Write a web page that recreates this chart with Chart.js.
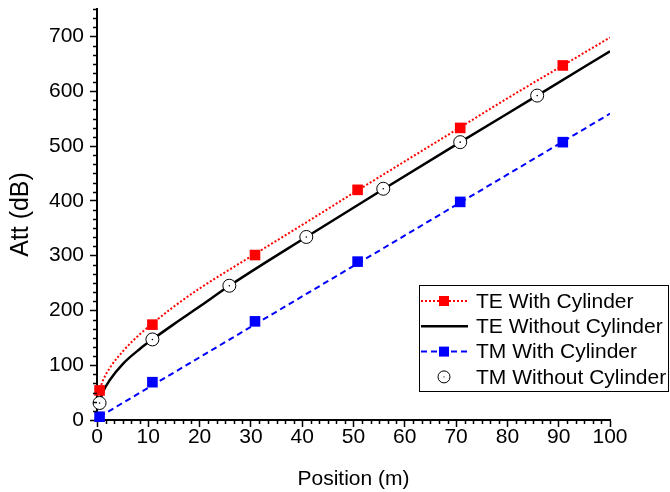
<!DOCTYPE html>
<html>
<head>
<meta charset="utf-8">
<script src="https://cdn.jsdelivr.net/npm/chart.js@4"></script>
<style>
    body { margin: 0; background: #fff; }
    #wrap { width: 670px; height: 492px; }
</style>
</head>
<body>
<div id="wrap"><canvas id="attChart" width="670" height="492"></canvas></div>
<script>
// du lieu doc tu hinh
const markerX = [0.5, 10.8, 30.8, 50.8, 70.8, 90.8];
const teWithY = [54, 174, 301, 420, 533, 647];
const tmWithY = [6, 69, 180, 289, 398, 507];

const tmWithoutX = [0.5, 10.8, 25.8, 40.8, 55.8, 70.8, 85.8];
const tmWithoutY = [31, 147, 245, 334, 422, 507, 592];

// duong cong TE With Cylinder (cham do)
const teWithCurveX = [0.3, 1.2, 2.5, 5.1, 8.4, 10.8, 15, 20, 30.8, 40, 50.8, 60, 70.8, 80, 90.8, 100];
const teWithCurveY = [50, 73, 95, 126, 157, 176, 207, 240, 303, 356, 419, 472, 534, 587, 647, 698];

// duong cong TE Without Cylinder (den)
const teWithoutCurveX = [0.3, 1.2, 2.5, 5.1, 8.4, 10.8, 15, 20, 25.8, 40.8, 55.8, 70.8, 85.8, 100];
const teWithoutCurveY = [29, 52, 73, 103, 130, 147, 175, 207, 245, 334, 421, 507, 592, 673];

// duong thang TM With Cylinder (xanh)
const tmLineX = [0.5, 100];
const tmLineY = [6, 559];

const toPts = (xs, ys) => xs.map((x, i) => ({ x: x, y: ys[i] }));

const FONT = "'Liberation Sans', Arial, sans-serif";

// ve vach chia phu (5 vach giua hai vach chinh)
const minorTicks = {
    id: 'minorTicks',
    afterDraw(chart) {
        const ctx = chart.ctx;
        const xs = chart.scales.x, ys = chart.scales.y;
        ctx.save();
        ctx.strokeStyle = '#000';
        ctx.lineWidth = 1.5;
        ctx.beginPath();
        for (let i = 0; i <= 60; i++) {
            if (i % 6 === 0) continue;
            const px = Math.round(xs.getPixelForValue(i * 10 / 6)) + 0.5;
            ctx.moveTo(px, xs.top);
            ctx.lineTo(px, xs.top + 4);
        }
        for (let i = 0; i <= 45; i++) {
            if (i % 6 === 0) continue;
            const py = Math.round(ys.getPixelForValue(i * 100 / 6)) + 0.5;
            ctx.moveTo(ys.right, py);
            ctx.lineTo(ys.right - 4, py);
        }
        ctx.stroke();
        ctx.restore();
    }
};

// chu thich
const boxLegend = {
    id: 'boxLegend',
    afterDraw(chart) {
        const ctx = chart.ctx;
        const left = 419, top = 285, right = 669, bottom = 392;
        ctx.save();
        ctx.fillStyle = '#fff';
        ctx.fillRect(left, top, right - left, bottom - top);
        ctx.strokeStyle = '#000';
        ctx.lineWidth = 1;
        ctx.strokeRect(left + 0.5, top + 0.5, right - left - 1, bottom - top - 1);

        const rows = [
            { text: 'TE With Cylinder', color: 'red', dash: [2, 2], width: 2, marker: 'square' },
            { text: 'TE Without Cylinder', color: '#000', dash: [], width: 2.5, marker: null },
            { text: 'TM With Cylinder', color: '#0000ff', dash: [6, 4], width: 2, marker: 'square' },
            { text: 'TM Without Cylinder', color: null, dash: [], width: 0, marker: 'circle' }
        ];
        rows.forEach((r, i) => {
            const y = 301 + i * 25.3;
            if (r.color) {
                ctx.strokeStyle = r.color;
                ctx.lineWidth = r.width;
                ctx.setLineDash(r.dash);
                ctx.beginPath();
                ctx.moveTo(421, y);
                ctx.lineTo(468, y);
                ctx.stroke();
                ctx.setLineDash([]);
            }
            if (r.marker === 'square') {
                ctx.fillStyle = r.color;
                ctx.fillRect(439, y - 5, 10, 10);
            } else if (r.marker === 'circle') {
                ctx.fillStyle = '#fff';
                ctx.strokeStyle = '#000';
                ctx.lineWidth = 1;
                ctx.beginPath();
                ctx.arc(444, y, 6, 0, Math.PI * 2);
                ctx.fill();
                ctx.stroke();
                ctx.fillStyle = '#000';
                ctx.fillRect(443.5, y - 0.5, 1, 1);
            }
            ctx.fillStyle = '#000';
            ctx.font = '21px ' + FONT;
            ctx.textBaseline = 'middle';
            ctx.textAlign = 'left';
            ctx.fillText(r.text, 476, y + 1);
        });
        ctx.restore();
    }
};

const ctx = document.getElementById('attChart').getContext('2d');
const attChart = new Chart(ctx, {
    type: 'scatter',
    data: {
        datasets: [
            {
                label: 'TM Without Cylinder dot',
                data: toPts(tmWithoutX, tmWithoutY),
                pointRadius: 0.8,
                pointBackgroundColor: '#000',
                pointBorderWidth: 0,
                showLine: false,
                clip: false
            },
            {
                label: 'TM Without Cylinder',
                data: toPts(tmWithoutX, tmWithoutY),
                pointStyle: 'circle',
                pointRadius: 6.5,
                pointBackgroundColor: '#fff',
                pointBorderColor: '#000',
                pointBorderWidth: 1,
                showLine: false,
                clip: false
            },
            {
                label: 'TE With Cylinder',
                data: toPts(markerX, teWithY),
                pointStyle: 'rect',
                pointRadius: 7.5,
                pointBackgroundColor: 'red',
                pointBorderWidth: 0,
                showLine: false,
                clip: false
            },
            {
                label: 'TM With Cylinder',
                data: toPts(markerX, tmWithY),
                pointStyle: 'rect',
                pointRadius: 7.5,
                pointBackgroundColor: '#0000ff',
                pointBorderWidth: 0,
                showLine: false,
                clip: false
            },
            {
                label: 'TE Without Cylinder curve',
                data: toPts(teWithoutCurveX, teWithoutCurveY),
                showLine: true,
                borderColor: '#000',
                borderWidth: 2.5,
                pointRadius: 0,
                cubicInterpolationMode: 'monotone'
            },
            {
                label: 'TE With Cylinder curve',
                data: toPts(teWithCurveX, teWithCurveY),
                showLine: true,
                borderColor: 'red',
                borderWidth: 2,
                borderDash: [2, 2],
                pointRadius: 0,
                cubicInterpolationMode: 'monotone'
            },
            {
                label: 'TM With Cylinder line',
                data: toPts(tmLineX, tmLineY),
                showLine: true,
                borderColor: '#0000ff',
                borderWidth: 2,
                borderDash: [6, 4],
                pointRadius: 0
            }
        ]
    },
    options: {
        responsive: false,
        animation: false,
        layout: { padding: { top: 9, right: 60, left: 0, bottom: 0 } },
        plugins: {
            legend: { display: false },
            tooltip: { enabled: false }
        },
        scales: {
            x: {
                type: 'linear',
                min: 0,
                max: 100,
                afterFit: (scale) => {
                    scale.height = 72;
                    scale.paddingLeft = 0;
                    scale.paddingRight = 0;
                },
                border: { display: true, color: '#000', width: 2 },
                grid: { drawOnChartArea: false, drawTicks: true, tickLength: 7, tickColor: '#000', tickWidth: 1.5 },
                ticks: {
                    stepSize: 10,
                    padding: -2,
                    color: '#000',
                    maxRotation: 0,
                    font: { family: FONT, size: 21 }
                },
                title: {
                    display: true,
                    text: 'Position (m)',
                    color: '#000',
                    font: { family: FONT, size: 21 },
                    padding: { top: 0, bottom: 0 }
                }
            },
            y: {
                type: 'linear',
                min: 0,
                max: 750,
                afterFit: (scale) => {
                    scale.width = 97;
                    scale.paddingTop = 0;
                    scale.paddingBottom = 0;
                },
                border: { display: true, color: '#000', width: 2 },
                grid: { drawOnChartArea: false, drawTicks: true, tickLength: 7, tickColor: '#000', tickWidth: 1.5 },
                ticks: {
                    stepSize: 100,
                    includeBounds: false,
                    padding: 6,
                    color: '#000',
                    font: { family: FONT, size: 21 }
                },
                title: {
                    display: true,
                    text: 'Att (dB)',
                    color: '#000',
                    font: { family: FONT, size: 25 },
                    padding: { top: 6, bottom: 0 }
                }
            }
        }
    },
    plugins: [minorTicks, boxLegend]
});
</script>
</body>
</html>
